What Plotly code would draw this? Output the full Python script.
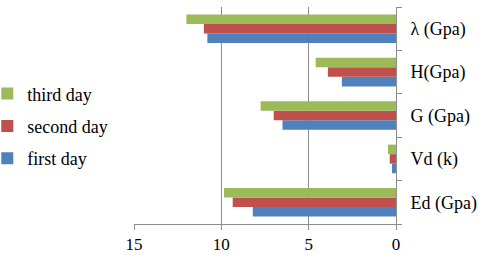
import plotly.graph_objects as go

categories = ["Ed (Gpa)", "Vd (k)", "G (Gpa)", "H(Gpa)", "λ (Gpa)"]
first_day = [8.2, 0.23, 6.5, 3.1, 10.8]
second_day = [9.35, 0.36, 7.0, 3.9, 11.0]
third_day = [9.85, 0.46, 7.75, 4.6, 12.0]
series_names = ["first day", "second day", "third day"]
colors = ["#4F81BD", "#C0504D", "#9BBB59"]

FONT = "Liberation Serif"

fig = go.Figure()
for i, (name, vals, col) in enumerate(zip(series_names, [first_day, second_day, third_day], colors)):
    fig.add_trace(go.Bar(y=categories, x=vals, name=name, orientation="h", legendgroup=name,
                         legendrank=10 - i,
                         marker=dict(color=col, line=dict(width=0))))

fig.update_layout(
    width=480, height=256,
    margin=dict(l=134, r=84, t=7, b=32, autoexpand=False),
    paper_bgcolor="white", plot_bgcolor="white",
    barmode="group", bargap=0.34, bargroupgap=0,
    font=dict(family=FONT, size=18, color="black"),
    legend=dict(traceorder="grouped", x=-0.56, xanchor="left",
                y=0.45, yanchor="middle",
                font=dict(family=FONT, size=18), itemwidth=30, tracegroupgap=6,
                bgcolor="rgba(0,0,0,0)"),
    showlegend=True,
)
fig.update_xaxes(range=[15, 0], tickvals=[0, 5, 10, 15], showgrid=True, gridcolor="#8c8c8c",
                 gridwidth=1, showline=True, linecolor="#8c8c8c", linewidth=1,
                 ticks="outside", ticklen=5, tickcolor="#8c8c8c", zeroline=False,
                 automargin=False, tickfont=dict(family=FONT, size=17))
fig.update_yaxes(side="right", showline=True, linecolor="#8c8c8c", linewidth=1,
                 ticks="outside", ticklen=5, tickcolor="#8c8c8c", tickson="boundaries",
                 showgrid=False, ticklabelstandoff=10, automargin=False,
                 tickfont=dict(family=FONT, size=18))

fig.write_html("out.html", config={"displayModeBar": False},
               post_script="document.body.style.margin='0';")
